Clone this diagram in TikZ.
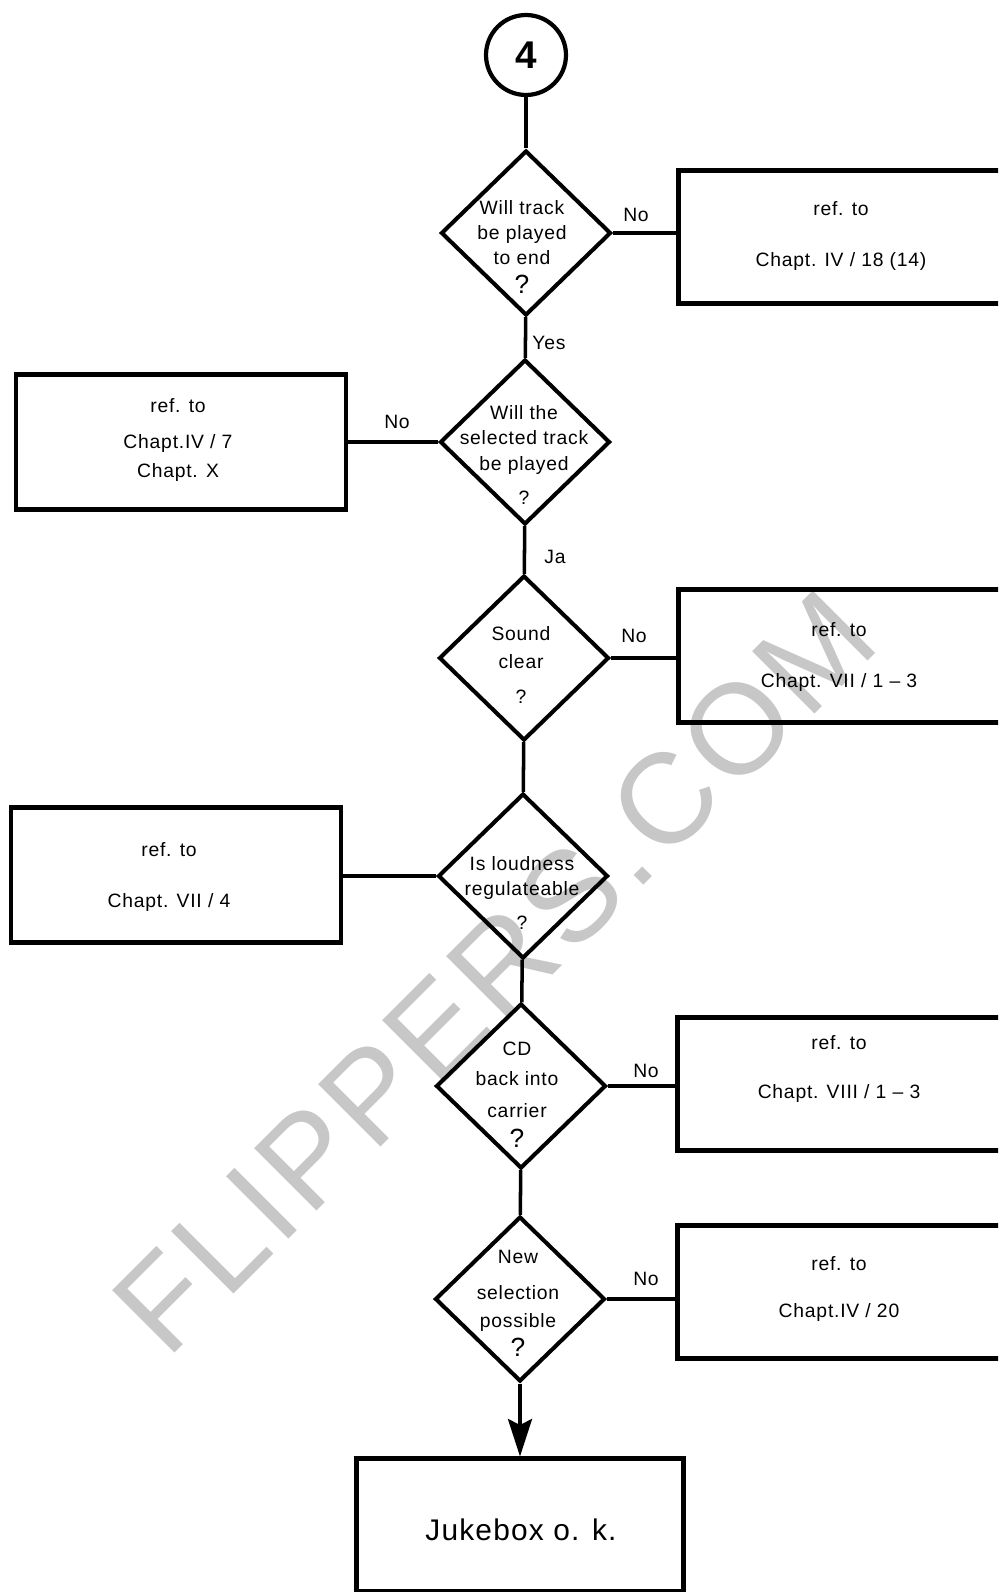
\documentclass[tikz,border=0pt]{standalone}
\usepackage{fontspec}
\setmainfont{Liberation Sans}[LetterSpace=4]
\usetikzlibrary{shapes.geometric,arrows.meta}

\begin{document}
\begin{tikzpicture}[x=0.02cm, y=-0.02cm,
		ask/.style={draw, shape=diamond, line width=2.3pt, inner sep=0pt, minimum width=3.4cm, minimum height=3.3cm},
		refbox/.style={draw, rectangle, line width=2.6pt, minimum width=6.5cm, minimum height=2.65cm},
		asktxt/.style={align=center, font=\fontsize{11}{14.5}\selectfont},
		reftxt/.style={align=center, font=\fontsize{11}{14.5}\selectfont},
		ans/.style={font=\fontsize{11}{13}\selectfont},
		conn/.style={line width=2pt}]
	\useasboundingbox (0,0) rectangle (998,1592);
	\clip (0,0) rectangle (998,1592);
	
	% ===================== watermark =====================
	\node[rotate=45, text=black!22, font=\fontsize{73}{73}\selectfont] (wm) at (494,972) {FLIPPERS.COM};
	
	% ===================== main column =====================
	\node[circle, draw, line width=2.4pt, minimum size=1.6cm, inner sep=0pt, font=\fontsize{22}{22}\selectfont\bfseries] (start) at (526,55) {4};
	
	\node[ask] (q1) at (526,233) {};
	\node[ask] (q2) at (525,442) {};
	\node[ask] (q3) at (524,658) {};
	\node[ask] (q4) at (523,876) {};
	\node[ask] (q5) at (521,1086) {};
	\node[ask] (q6) at (520,1299) {};
	
	\node[refbox, minimum width=6.55cm] (ok) at (520,1525) {};
	
	% question texts
	\node[asktxt] (t1) at (522,247) {Will track\\be played\\to end\\[2pt]{\fontsize{15}{15}\selectfont ?}};
	\node[asktxt] (t2) at (524,455) {Will the\\selected track\\be played\\[5pt]?};
	\node[asktxt] (t3) at (521,665) {Sound\\[1.5pt]clear\\[5pt]?};
	\node[asktxt] (t4) at (522,893) {Is loudness\\regulateable\\[5pt]?};
	\node[asktxt] (t5) at (517,1095) {CD\\[2.5pt]back into\\[3.5pt]carrier\\[3pt]{\fontsize{15}{15}\selectfont ?}};
	\node[asktxt] (t6) at (518,1303) {New\\[6pt]selection\\[1.5pt]possible\\[2pt]{\fontsize{15}{15}\selectfont ?}};
	
	\node[font=\fontsize{17}{17}\selectfont] (oktxt) at (521,1530) {Jukebox o. k.};
	
	% ===================== reference boxes =====================
	\node[refbox] (r1) at (841,237) {};
	\node[refbox, minimum width=6.6cm, minimum height=2.7cm] (l1) at (181,442) {};
	\node[refbox] (r2) at (841,656) {};
	\node[refbox, minimum width=6.6cm, minimum height=2.7cm] (l2) at (176,875) {};
	\node[refbox] (r3) at (840,1084) {};
	\node[refbox] (r4) at (840,1292) {};
	
	\node[reftxt] (rt1) at (841,236) {ref. to\\[14.5pt]Chapt. IV / 18 (14)};
	\node[reftxt] (lt1) at (178,440) {ref. to\\[6pt]Chapt.IV / 7\\[2pt]Chapt. X};
	\node[reftxt] (rt2) at (839,657) {ref. to\\[14pt]Chapt. VII / 1 -- 3};
	\node[reftxt] (lt2) at (169,877) {ref. to\\[15pt]Chapt. VII / 4};
	\node[reftxt] (rt3) at (839,1069) {ref. to\\[13.3pt]Chapt. VIII / 1 -- 3};
	\node[reftxt] (rt4) at (839,1289) {ref. to\\[12.7pt]Chapt.IV / 20};
	
	% ===================== connectors =====================
	\draw[conn] (start) -- (q1);
	\draw[conn] (q1) -- (q2);
	\draw[conn] (q2) -- (q3);
	\draw[conn] (q3) -- (q4);
	\draw[conn] (q4) -- (q5);
	\draw[conn] (q5) -- (q6);
	\draw[conn, -{Stealth[length=7.5mm, width=4.8mm, inset=1.2mm]}] (q6) -- (ok);
	
	\draw[conn] (q1.east) -- (q1.east -| r1.west);
	\draw[conn] (q2.west) -- (q2.west -| l1.east);
	\draw[conn] (q3.east) -- (q3.east -| r2.west);
	\draw[conn] (q4.west) -- (q4.west -| l2.east);
	\draw[conn] (q5.east) -- (q5.east -| r3.west);
	\draw[conn] (q6.east) -- (q6.east -| r4.west);
	
	% answer labels
	\node[ans] (a1) at (636,215) {No};
	\node[ans] (a2) at (549,343) {Yes};
	\node[ans] (a3) at (397,422) {No};
	\node[ans] (a4) at (555,557) {Ja};
	\node[ans] (a5) at (634,636) {No};
	\node[ans] (a6) at (646,1071) {No};
	\node[ans] (a7) at (646,1279) {No};
\end{tikzpicture}
\end{document}
